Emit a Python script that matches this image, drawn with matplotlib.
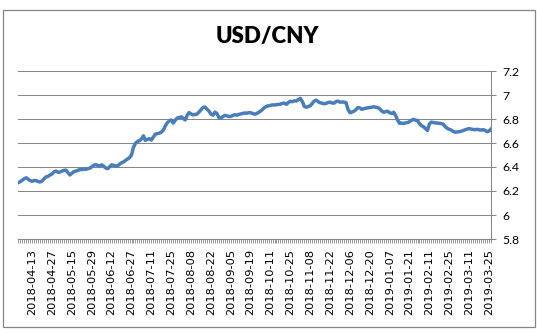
import matplotlib
matplotlib.use("Agg")
import matplotlib.pyplot as plt
import numpy as np
import pandas as pd
from matplotlib.patches import Rectangle

# trading days (CN calendar) 2018-04-02 .. 2019-03-26
HOLIDAYS = ["2018-04-05", "2018-04-06", "2018-04-30", "2018-05-01", "2018-06-18",
            "2018-09-24", "2018-10-01", "2018-10-02", "2018-10-03", "2018-10-04",
            "2018-10-05", "2018-12-31", "2019-01-01", "2019-02-04", "2019-02-05",
            "2019-02-06", "2019-02-07", "2019-02-08"]
dates = pd.date_range("2018-04-02", "2019-03-26",
                      freq=pd.offsets.CustomBusinessDay(holidays=HOLIDAYS))

# USD/CNY, one value per trading day
rate = [
    6.270, 6.278, 6.290, 6.302, 6.310, 6.298, 6.286,
    6.281, 6.288, 6.286, 6.279, 6.275, 6.284, 6.303, 6.318, 6.322, 6.334,
    6.342, 6.360, 6.366, 6.356, 6.358, 6.366, 6.372, 6.374, 6.352, 6.334,
    6.348, 6.362, 6.366, 6.372, 6.380, 6.378, 6.383, 6.381, 6.386, 6.390,
    6.402, 6.414, 6.420, 6.412, 6.410, 6.418, 6.406, 6.392, 6.386, 6.402,
    6.418, 6.414, 6.408, 6.410, 6.424, 6.436, 6.442, 6.455, 6.466, 6.478,
    6.500, 6.565, 6.598, 6.612, 6.620, 6.632, 6.660, 6.622, 6.630, 6.636,
    6.624, 6.650, 6.674, 6.678, 6.682, 6.690, 6.706, 6.742, 6.768, 6.784,
    6.792, 6.766, 6.790, 6.808, 6.812, 6.818, 6.806, 6.792, 6.830, 6.854,
    6.842, 6.834, 6.838, 6.841, 6.858, 6.878, 6.896, 6.900, 6.882, 6.866,
    6.840, 6.832, 6.858, 6.846, 6.812, 6.808, 6.820, 6.830, 6.826, 6.821,
    6.822, 6.830, 6.836, 6.832, 6.838, 6.842, 6.846, 6.850, 6.848, 6.853,
    6.852, 6.846, 6.840, 6.845, 6.856, 6.866, 6.880, 6.896, 6.906, 6.910,
    6.914, 6.918, 6.916, 6.920, 6.921, 6.924, 6.930, 6.932, 6.922, 6.938,
    6.948, 6.944, 6.952, 6.950, 6.962, 6.972, 6.945, 6.905, 6.898, 6.904,
    6.910, 6.930, 6.950, 6.957, 6.944, 6.935, 6.932, 6.927, 6.930, 6.938,
    6.940, 6.934, 6.932, 6.946, 6.948, 6.940, 6.942, 6.940, 6.936, 6.880,
    6.852, 6.858, 6.865, 6.878, 6.896, 6.892, 6.880, 6.886, 6.890, 6.893,
    6.895, 6.898, 6.902, 6.898, 6.894, 6.885, 6.866, 6.856, 6.862, 6.864,
    6.852, 6.846, 6.856, 6.828, 6.790, 6.764, 6.766, 6.762, 6.768, 6.770,
    6.778, 6.790, 6.797, 6.790, 6.788, 6.760, 6.745, 6.736, 6.720, 6.704,
    6.760, 6.774, 6.770, 6.768, 6.766, 6.764, 6.762, 6.756, 6.735, 6.722,
    6.714, 6.708, 6.696, 6.690, 6.692, 6.694, 6.698, 6.704, 6.710, 6.716,
    6.720, 6.716, 6.713, 6.711, 6.714, 6.710, 6.708, 6.711, 6.706, 6.694,
    6.700, 6.716,
]
y_ticks = [5.8, 6.0, 6.2, 6.4, 6.6, 6.8, 7.0, 7.2]
y_labels = ["5.8", "6", "6.2", "6.4", "6.6", "6.8", "7", "7.2"]

n = len(rate)
labels = [d.strftime("%Y-%m-%d") for d in dates[:n]]
x = np.arange(n)
GRID = "#868686"

fig = plt.figure(figsize=(5.37, 3.34), dpi=100)
ax = fig.add_axes([18.3 / 537, 1 - 239 / 334, (491 - 18.3) / 537, (239 - 71) / 334])

ax.plot(x, rate, color="#4A7EBB", lw=2.5, solid_joinstyle="round")
ax.set_xlim(0, n - 1)
ax.set_ylim(5.8, 7.2)

ax.yaxis.tick_right()
ax.set_yticks(y_ticks)
ax.set_yticklabels(y_labels, family="Lato", fontsize=8.8)
ax.tick_params(axis="y", length=3.5, width=0.75, color=GRID, pad=4.5)
ax.grid(axis="y", color=GRID, lw=0.75)

ax.set_xticks(x[7::10])
ax.set_xticklabels(labels[7::10], rotation=90, family="DejaVu Sans", fontsize=8.2)
ax.set_xticks(x, minor=True)
ax.tick_params(axis="x", which="both", length=2.6, width=0.6, color=GRID)
ax.tick_params(axis="x", which="major", pad=4.5)

for s in ["top", "left"]:
    ax.spines[s].set_visible(False)
for s in ["right", "bottom"]:
    ax.spines[s].set_color(GRID)
    ax.spines[s].set_linewidth(0.75)
ax.set_axisbelow(True)

fig.text(267 / 537, 1 - 37 / 334, "USD/CNY", ha="center", va="center",
         family="Lato", fontweight="heavy", fontsize=16)
fig.patches.append(Rectangle((3 / 537, 1 - 327 / 334), 532 / 537, 317.5 / 334,
                             transform=fig.transFigure, fill=False,
                             edgecolor=GRID, lw=0.9))

fig.savefig("out.png", dpi=100)
